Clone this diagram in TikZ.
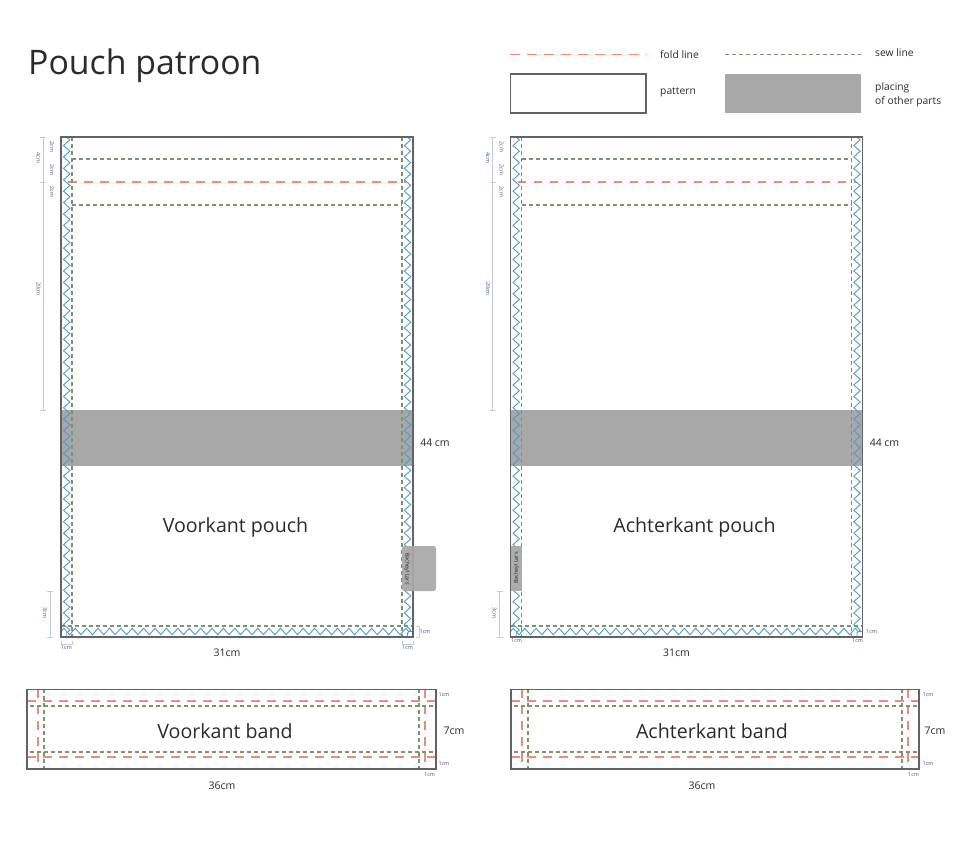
\documentclass[tikz,border=0pt]{standalone}
\usepackage{fontspec}
\setmainfont{Open Sans}
\usetikzlibrary{decorations.pathmorphing}
\definecolor{foldc}{HTML}{F08B72}
\definecolor{sewc}{HTML}{7E9272}
\definecolor{greyc}{HTML}{A8A8A8}
\definecolor{framec}{HTML}{636363}
\definecolor{zigc}{HTML}{4A9CCB}
\definecolor{dimc}{HTML}{C5C8DE}
\definecolor{dimt}{HTML}{4A4F8C}
\definecolor{txtc}{HTML}{2B2B2B}
\tikzset{
  frameline/.style={draw=framec,line width=1.3pt},
  foldline/.style={draw=foldc,line width=1.05pt,dash pattern=on 8.5pt off 7.5pt},
  sewline/.style={draw=sewc,line width=1.1pt,dash pattern=on 4pt off 3pt},
  zig/.style={draw=zigc,line width=0.9pt,decorate,decoration={zigzag,amplitude=3.2pt,segment length=11.4pt}},
  dimline/.style={draw=dimc,line width=0.8pt},
  dimlabel/.style={text=dimt,font=\fontsize{5.4}{6}\selectfont,inner sep=0pt},
  biglabel/.style={text=txtc,font=\fontsize{19.6}{24}\selectfont,inner sep=0pt},
  midlabel/.style={text=txtc,font=\fontsize{10.5}{13}\selectfont,inner sep=0pt},
  leglabel/.style={text=txtc,font=\fontsize{10.3}{14}\selectfont,inner sep=0pt,align=left,anchor=west},
}
% #1 = x offset, #2 = name prefix
\newcommand{\pouchpiece}[2]{%
  \begin{scope}[xshift=#1pt]
    \fill[greyc] (61,410) rectangle (413,466);
    \draw[sewline] (72,159) -- (402,159);
    \draw[sewline] (72,205) -- (402,205);
    \draw[foldline] (68,182) -- (406,182);
    \draw[sewline] (72,137) -- (72,637);
    \draw[sewline] (402,137) -- (402,637);
    \draw[sewline] (61,626) -- (413,626);
    \draw[zig] (66.7,137) -- (66.7,637);
    \draw[zig] (407.5,137) -- (407.5,637);
    \draw[zig] (61,631.5) -- (413,631.5);
    \draw[frameline] (61,137) rectangle (413,637);
    % dimensions
    \draw[dimline] (40,137) -- (46,137) (40,182) -- (46,182) (40,410) -- (46,410) (43,137) -- (43,410);
    \draw[dimline] (47,591) -- (53,591) (47,637) -- (53,637) (50,591) -- (50,637);
    \node[dimlabel,rotate=-90] (#2a) at (52,147) {2cm};
    \node[dimlabel,rotate=-90] (#2b) at (52,170) {2cm};
    \node[dimlabel,rotate=-90] (#2c) at (52,192) {2cm};
    \node[dimlabel,rotate=-90] (#2d) at (38.5,158) {4cm};
    \node[dimlabel,rotate=-90] (#2e) at (38.5,289) {20cm};
    \node[dimlabel,rotate=-90] (#2f) at (45,613) {3cm};
    \node[midlabel] (#2g) at (435,442.5) {44 cm};
    \node[midlabel] (#2h) at (227,653) {31cm};
  \end{scope}}
% #1 = x offset, #2 = right edge of the piece
\newcommand{\bandpiece}[2]{%
  \begin{scope}[xshift=#1pt]
    \draw[foldline] (27,701) -- (#2,701);
    \draw[foldline] (27,757) -- (#2,757);
    \draw[foldline] (38,689) -- (38,769);
    \draw[foldline] (#2-11,689) -- (#2-11,769);
    \draw[sewline] (30,706) -- (#2,706);
    \draw[sewline] (30,752) -- (#2,752);
    \draw[sewline] (44,689) -- (44,769);
    \draw[sewline] (#2-17,689) -- (#2-17,769);
    \draw[frameline] (27,689.5) rectangle (#2,769);
  \end{scope}}
\begin{document}
\begin{tikzpicture}[x=1pt,y=-1pt]
\useasboundingbox (0,0) rectangle (980,846);
\fill[white] (0,0) rectangle (980,846);
\node[text=txtc,font=\fontsize{33.8}{38}\selectfont,inner sep=0pt,anchor=west] (title) at (28,65.5) {Pouch patroon};
% legend
\coordinate (fa) at (510,54.5); \coordinate (fb) at (647,54.5);
\draw[foldline,dash pattern=on 10pt off 7pt] (fa) -- (fb);
\coordinate (sa) at (725,54.5); \coordinate (sb) at (861,54.5);
\draw[sewline,line width=.9pt,dash pattern=on 3.5pt off 3.5pt] (sa) -- (sb);
\node[leglabel] (lfold) at (660,54.5) {fold line};
\node[leglabel] (lsew) at (875,53) {sew line};
\draw[draw=framec,line width=1.3pt] (510.5,74) rectangle (646,113);
\node[leglabel] (lpat) at (660,92.5) {pattern};
\fill[greyc] (725,74) rectangle (861,113);
\node[leglabel] (lplace) at (875,94.5) {placing\\of other parts};
% pouches
\pouchpiece{0}{pa}
\pouchpiece{449.5}{pb}
\node[biglabel] (vp) at (235.5,527) {Voorkant pouch};
\node[biglabel] (ap) at (694.5,527) {Achterkant pouch};
% pockets
\fill[greyc,opacity=.93,rounded corners=2.5pt] (402,546) rectangle (436,591);
\fill[greyc,opacity=.93] (511,546) rectangle (522,591);
\node[dimlabel,text=txtc,rotate=-90] (pkl) at (407,569) {Bacheyl Lars};
\node[dimlabel,text=txtc,rotate=90] (pkr) at (516.5,568) {Bacheyl Lars};
% pouch small dims
\draw[dimline] (61,641) -- (61,644) -- (72,644) -- (72,641);
\draw[dimline] (402,641) -- (402,644) -- (413,644) -- (413,641);
\draw[dimline] (416,626) -- (419,626) -- (419,637) -- (416,637);
\node[dimlabel] (d1) at (66.5,647.5) {1cm};
\node[dimlabel] (d2) at (407.5,647.5) {1cm};
\node[dimlabel] (d3) at (425,631.5) {1cm};
\node[dimlabel] (d4) at (516.5,641) {1cm};
\node[dimlabel] (d5) at (857.5,641) {1cm};
\node[dimlabel] (d6) at (871.5,631.5) {1cm};
% bands
\bandpiece{0}{436}
\bandpiece{484}{435}
\node[biglabel] (vb) at (225,731.5) {Voorkant band};
\node[biglabel] (ab) at (712,731.5) {Achterkant band};
\node[midlabel] (b1) at (222,785.5) {36cm};
\node[midlabel] (b2) at (702,785.5) {36cm};
\node[midlabel] (b3) at (454,731) {7cm};
\node[midlabel] (b4) at (935,731) {7cm};
\node[dimlabel] (c1) at (444,694.5) {1cm};
\node[dimlabel] (c2) at (444,764) {1cm};
\node[dimlabel] (c3) at (429.5,774.5) {1cm};
\node[dimlabel] (c4) at (928,694.5) {1cm};
\node[dimlabel] (c5) at (928,764) {1cm};
\node[dimlabel] (c6) at (913.5,774.5) {1cm};
\end{tikzpicture}
\end{document}
